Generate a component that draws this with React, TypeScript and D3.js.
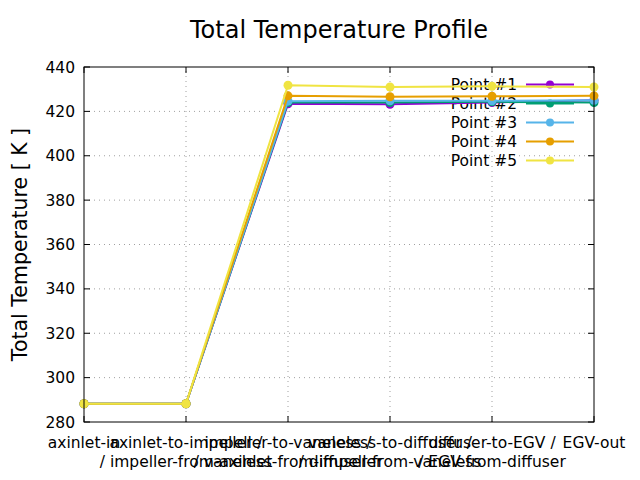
import React from "react";
import * as d3 from "d3";

const categories = [
  "axinlet-in",
  "axinlet-to-impeller /\n/ impeller-from-axinlet",
  "impeller-to-vaneless /\n/ vaneless-from-impeller",
  "vaneless-to-diffuser /\n/ diffuser-from-vaneless",
  "diffuser-to-EGV /\n/ EGV-from-diffuser",
  "EGV-out",
];

const seriesNames = ["Point #1", "Point #2", "Point #3", "Point #4", "Point #5"];
const seriesColors = ["#9400d3", "#009e73", "#56b4e9", "#e69f00", "#f0e442"];

const point1 = [288.2, 288.2, 423.4, 423.2, 424.0, 425.0];
const point2 = [288.2, 288.2, 424.0, 424.0, 424.3, 424.0];
const point3 = [288.2, 288.2, 424.6, 424.8, 424.8, 425.0];
const point4 = [288.2, 288.2, 427.0, 426.6, 426.8, 427.0];
const point5 = [288.2, 288.2, 431.8, 431.0, 431.3, 431.0];
const seriesValues = [point1, point2, point3, point4, point5];

const yTicks = [280, 300, 320, 340, 360, 380, 400, 420, 440];

const W = 640;
const H = 480;
const M = { top: 67, right: 46, bottom: 58, left: 84 };
const FONT = "DejaVu Sans, sans-serif";
const FS = 15.5;

export default function App() {
  const x = d3
    .scalePoint<number>()
    .domain(d3.range(categories.length))
    .range([M.left, W - M.right]);
  const y = d3.scaleLinear().domain([280, 440]).range([H - M.bottom, M.top]);
  const line = d3
    .line<number>()
    .x((_, i) => x(i)!)
    .y((d) => y(d));

  const x0 = M.left;
  const x1 = W - M.right;
  const y0 = H - M.bottom;
  const y1 = M.top;
  const tick = 6;

  return (
    <svg
      width={W}
      height={H}
      style={{ position: "absolute", left: 0, top: 0, background: "#fff" }}
      fontFamily={FONT}
    >
      <rect width={W} height={H} fill="#fff" />
      <text x={339} y={38} textAnchor="middle" fontSize={24}>
        Total Temperature Profile
      </text>

      {/* grid */}
      {yTicks.slice(1, -1).map((t) => (
        <line
          key={"gy" + t}
          x1={x0}
          x2={x1}
          y1={y(t)}
          y2={y(t)}
          stroke="#a0a0a0"
          strokeWidth={1}
          strokeDasharray="1,4"
        />
      ))}
      {categories.slice(1, -1).map((_, i) => (
        <line
          key={"gx" + i}
          x1={x(i + 1)}
          x2={x(i + 1)}
          y1={y0}
          y2={y1}
          stroke="#a0a0a0"
          strokeWidth={1}
          strokeDasharray="1,4"
        />
      ))}

      {/* ticks */}
      {yTicks.map((t) => (
        <g key={"ty" + t}>
          <line x1={x0} x2={x0 + tick} y1={y(t)} y2={y(t)} stroke="#000" />
          <line x1={x1} x2={x1 - tick} y1={y(t)} y2={y(t)} stroke="#000" />
          <text x={x0 - 9} y={y(t) + 5.5} textAnchor="end" fontSize={FS}>
            {t}
          </text>
        </g>
      ))}
      {categories.map((c, i) => (
        <g key={"tx" + i}>
          <line x1={x(i)} x2={x(i)} y1={y0} y2={y0 - tick} stroke="#000" />
          <line x1={x(i)} x2={x(i)} y1={y1} y2={y1 + tick} stroke="#000" />
          {c.split("\n").map((s, k) => (
            <text key={k} x={x(i)} y={y0 + 26 + k * 19} textAnchor="middle" fontSize={FS}>
              {s}
            </text>
          ))}
        </g>
      ))}

      <text
        transform={`translate(27,${(y0 + y1) / 2}) rotate(-90)`}
        textAnchor="middle"
        fontSize={20.5}
      >
        Total Temperature [ K ]
      </text>

      {/* legend */}
      {seriesNames.map((n, i) => {
        const ly = 84.5 + i * 19;
        return (
          <g key={"lg" + i}>
            <text x={517} y={ly + 5.5} textAnchor="end" fontSize={FS}>
              {n}
            </text>
            <line x1={526} x2={574} y1={ly} y2={ly} stroke={seriesColors[i]} strokeWidth={2} />
            <circle cx={550} cy={ly} r={4} fill={seriesColors[i]} />
          </g>
        );
      })}

      {/* series */}
      {seriesValues.map((vals, si) => (
        <g key={"s" + si}>
          <path d={line(vals)!} fill="none" stroke={seriesColors[si]} strokeWidth={2} />
          {vals.map((v, i) => (
            <circle key={i} cx={x(i)} cy={y(v)} r={4.5} fill={seriesColors[si]} />
          ))}
        </g>
      ))}

      <rect x={x0} y={y1} width={x1 - x0} height={y0 - y1} fill="none" stroke="#000" strokeWidth={1} />
    </svg>
  );
}
